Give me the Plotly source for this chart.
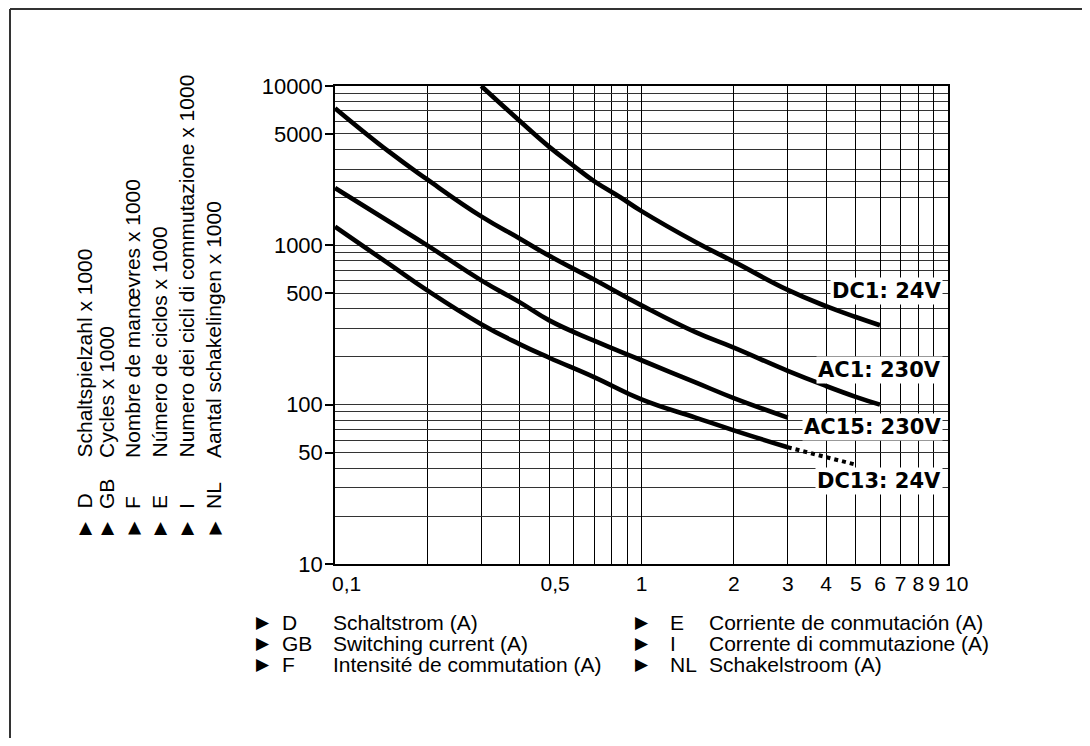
import numpy as np
import plotly.graph_objects as go

# switching current (A) vs. cycles x 1000
dc1_x = [0.3, 0.4, 0.5, 0.6, 0.7, 0.85, 1, 1.5, 2, 3, 4, 5, 6]
dc1_y = [10000, 6050, 4150, 3160, 2530, 2010, 1640, 1050, 790, 525, 415, 355, 315]

ac1_x = [0.1, 0.15, 0.2, 0.3, 0.4, 0.5, 0.7, 1, 1.5, 2, 3, 4, 5, 6]
ac1_y = [7260, 3870, 2590, 1520, 1105, 860, 610, 420, 285, 228, 163, 131, 112, 100]

ac15_x = [0.1, 0.15, 0.2, 0.3, 0.4, 0.5, 0.7, 1, 1.5, 2, 3]
ac15_y = [2290, 1410, 1000, 603, 440, 338, 252, 190, 138, 110, 83]

dc13_x = [0.1, 0.15, 0.2, 0.3, 0.4, 0.5, 0.7, 1, 1.5, 2, 3]
dc13_y = [1310, 764, 521, 320, 240, 197, 149, 108, 83, 69, 54]
dc13_ext_x = [3, 4, 5]
dc13_ext_y = [54, 47, 42]

curve_labels = ["DC1: 24V", "AC1: 230V", "AC15: 230V", "DC13: 24V"]
label_y = [514, 166, 72, 33]

x_tickvals = [0.1, 0.5, 1, 2, 3, 4, 5, 6, 7, 8, 9, 10]
x_ticktext = ["\u2007\u20070,1", "\u20070,5", "1", "2", "3", "4", "5", "6", "7", "8", "9", "\u2007\u200810"]
x_grid = [0.2, 0.3, 0.4, 0.6, 0.7, 0.8, 0.9]

y_tickvals = [10, 50, 100, 500, 1000, 5000, 10000]
y_ticktext = ["10", "50", "100", "500", "1000", "5000", "10000"]
y_grid = [20, 30, 40, 60, 70, 80, 90, 200, 300, 400, 600, 700, 800, 900,
          2000, 2500, 3000, 4000, 6000, 7000, 8000, 9000]

lang_codes = ["D", "GB", "F", "E", "I", "NL"]
y_titles = ["Schaltspielzahl x 1000", "Cycles x 1000", "Nombre de manœvres x 1000",
            "Número de ciclos x 1000", "Numero dei cicli di commutazione x 1000",
            "Aantal schakelingen x 1000"]
x_titles = ["Schaltstrom (A)", "Switching current (A)", "Intensité de commutation (A)",
            "Corriente de conmutación (A)", "Corrente di commutazione (A)", "Schakelstroom (A)"]

# page is drawn 8px in from the window corner (body margin)
OFF = 8
W, H = 1090 - 2 * OFF, 746 - 2 * OFF
L, R, T, B = 335, 948, 86, 564      # plot area in window pixels
FONT = "Liberation Sans, Arial, sans-serif"


def px(x):
    return (x - L) / (R - L)


def py(y):
    return (B - y) / (B - T)


fig = go.Figure()

for xs, ys in [(dc1_x, dc1_y), (ac1_x, ac1_y), (ac15_x, ac15_y), (dc13_x, dc13_y)]:
    fig.add_trace(go.Scatter(x=xs, y=ys, mode="lines",
                             line=dict(color="black", width=4.6, shape="spline", smoothing=1.3),
                             hoverinfo="skip"))
fig.add_trace(go.Scatter(x=dc13_ext_x, y=dc13_ext_y, mode="lines",
                         line=dict(color="black", width=4, dash="dot"), hoverinfo="skip"))

# curve labels on white boxes at the right edge
for txt, yv in zip(curve_labels, label_y):
    fig.add_annotation(x=np.log10(10), y=np.log10(yv), xref="x", yref="y", text=txt,
                       showarrow=False, xanchor="right", yanchor="middle", xshift=-5,
                       bgcolor="white", borderpad=1,
                       font=dict(family="DejaVu Sans", size=21, color="black", weight="bold"))

# rotated y-axis legend
col_x = [84, 106, 132.5, 159, 186, 213.5]
for i, (code, title) in enumerate(zip(lang_codes, y_titles)):
    fig.add_annotation(x=px(col_x[i]), y=py(528), xref="paper", yref="paper", text="▶",
                       showarrow=False, textangle=-90, xanchor="center", yanchor="middle",
                       font=dict(family="DejaVu Sans", size=17, color="black"))
    fig.add_annotation(x=px(col_x[i]), y=py(511), xref="paper", yref="paper", text=code,
                       showarrow=False, textangle=-90, xanchor="center", yanchor="bottom",
                       font=dict(family=FONT, size=21, color="black"))
    fig.add_annotation(x=px(col_x[i]), y=py(460), xref="paper", yref="paper", text=title,
                       showarrow=False, textangle=-90, xanchor="center", yanchor="bottom",
                       font=dict(family=FONT, size=21, color="black"))

# x-axis legend below the chart, two columns of three
row_y = [622, 643, 664]
cols = [(263, 280, 331), (642, 668, 707)]
for i, (code, title) in enumerate(zip(lang_codes, x_titles)):
    mx, cx, tx = cols[i // 3]
    yy = py(row_y[i % 3])
    fig.add_annotation(x=px(mx), y=yy, xref="paper", yref="paper", text="▶", showarrow=False,
                       xanchor="center", yanchor="middle",
                       font=dict(family="DejaVu Sans", size=17, color="black"))
    fig.add_annotation(x=px(cx), y=yy, xref="paper", yref="paper", text=code, showarrow=False,
                       xanchor="left", yanchor="middle", font=dict(family=FONT, size=21, color="black"))
    fig.add_annotation(x=px(tx), y=yy, xref="paper", yref="paper", text=title, showarrow=False,
                       xanchor="left", yanchor="middle", font=dict(family=FONT, size=21, color="black"))

# page frame (only the top and left edges fall inside the picture)
fig.add_shape(type="line", xref="paper", yref="paper", x0=px(10), y0=py(9), x1=px(1100), y1=py(9),
              line=dict(color="#333", width=2))
fig.add_shape(type="line", xref="paper", yref="paper", x0=px(10), y0=py(9), x1=px(10), y1=py(760),
              line=dict(color="#333", width=2))

fig.update_layout(
    width=W, height=H,
    margin=dict(l=L - OFF, r=OFF + W - R, t=T - OFF, b=OFF + H - B),
    paper_bgcolor="white", plot_bgcolor="white",
    showlegend=False,
    font=dict(family=FONT, size=21, color="black"),
    xaxis=dict(type="log", range=[-1, 1], tickvals=x_tickvals, ticktext=x_ticktext,
               tickangle=0, ticks="", tickfont=dict(size=21),
               showgrid=True, gridcolor="black", gridwidth=1.2,
               showline=True, linecolor="black", linewidth=1.5, mirror=True, zeroline=False,
               minor=dict(tickmode="array", tickvals=x_grid, showgrid=True,
                          gridcolor="black", gridwidth=1.2, ticks="")),
    yaxis=dict(type="log", range=[1, 4], tickvals=y_tickvals, ticktext=y_ticktext,
               ticks="outside", ticklen=8, tickwidth=1.5, tickcolor="black",
               ticklabelstandoff=-2, tickfont=dict(size=22),
               showgrid=True, gridcolor="#333", gridwidth=1.4,
               showline=True, linecolor="black", linewidth=1.5, mirror=True, zeroline=False,
               minor=dict(tickmode="array", tickvals=y_grid, showgrid=True,
                          gridcolor="#333", gridwidth=1.4, ticks="")),
)

fig.write_html("out.html")
